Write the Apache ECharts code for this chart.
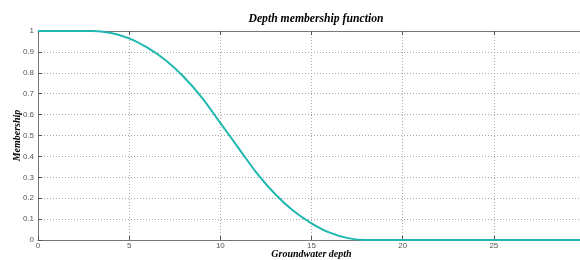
<!DOCTYPE html>
<html>
<head>
<meta charset="utf-8">
<script src="https://cdn.jsdelivr.net/npm/echarts@6/dist/echarts.min.js"></script>
<style>
  html, body { margin: 0; padding: 0; background: #fff; }
  #chart-container { width: 580px; height: 260px; }
</style>
</head>
<body>
<div id="chart-container"></div>
<script>
// groundwater depth and the membership
var depth = [0, 1, 2, 3, 4, 5, 6, 7, 8, 9, 10, 11, 12, 13, 14, 15, 16, 17, 18, 19, 20, 21, 22, 23, 24, 25, 26, 27, 28, 29, 30];
var membership = [1, 1, 1, 1, 0.99, 0.965, 0.92, 0.86, 0.78, 0.68, 0.56, 0.44, 0.32, 0.22, 0.14, 0.08, 0.035, 0.009, 0, 0, 0, 0, 0, 0, 0, 0, 0, 0, 0, 0, 0];
var xTicks = [0, 5, 10, 15, 20, 25, 30];
var yTicks = [0, 0.1, 0.2, 0.3, 0.4, 0.5, 0.6, 0.7, 0.8, 0.9, 1];

var serifBold = {
  fontFamily: 'Liberation Serif',
  fontStyle: 'italic',
  fontWeight: 'bold',
  color: '#000'
};

var dom = document.getElementById('chart-container');
var myChart = echarts.init(dom, null, { renderer: 'canvas' });

var option = {
  backgroundColor: '#fff',
  animation: false,
  title: {
    text: 'Depth membership function',
    left: 311,
    textAlign: 'center',
    top: 8,
    textStyle: Object.assign({ fontSize: 11.7 }, serifBold)
  },
  grid: { left: 38, right: -5, top: 31, bottom: 20, containLabel: false, outerBoundsMode: 'none' },
  xAxis: [
    {
      type: 'value',
      min: 0,
      max: 30,
      interval: 5,
      name: 'Groundwater depth',
      nameLocation: 'middle',
      nameGap: 9,
      nameMoveOverlap: false,
      nameTextStyle: Object.assign({ fontSize: 10 }, serifBold),
      axisLine: { show: true, lineStyle: { color: '#777', width: 1 } },
      axisTick: { show: true, inside: true, length: 4, lineStyle: { color: '#555' } },
      axisLabel: { fontSize: 8, color: '#555', margin: 2, fontFamily: 'Liberation Sans',
        formatter: function (v) { return xTicks.indexOf(v) >= 0 ? String(v) : ''; } },
      splitLine: { show: true, lineStyle: { color: '#aaa', type: [1, 2], width: 1 } }
    },
    {
      type: 'value',
      position: 'top',
      min: 0,
      max: 30,
      interval: 5,
      axisLine: { show: true, lineStyle: { color: '#777', width: 1 } },
      axisTick: { show: true, inside: true, length: 4, lineStyle: { color: '#555' } },
      axisLabel: { show: false },
      splitLine: { show: false }
    }
  ],
  yAxis: {
    type: 'value',
    min: 0,
    max: 1,
    interval: 0.1,
    name: 'Membership',
    nameLocation: 'middle',
    nameGap: 16,
    nameMoveOverlap: false,
    nameTextStyle: Object.assign({ fontSize: 10 }, serifBold),
    axisLine: { show: true, lineStyle: { color: '#777', width: 1 } },
    axisTick: { show: true, inside: true, length: 4, lineStyle: { color: '#555' } },
    axisLabel: { fontSize: 8, color: '#555', margin: 4, fontFamily: 'Liberation Sans',
      formatter: function (v) {
        var r = Math.round(v * 10) / 10;
        return yTicks.indexOf(r) >= 0 ? String(r) : '';
      } },
    splitLine: { show: true, lineStyle: { color: '#aaa', type: [1, 2], width: 1 } }
  },
  series: [
    {
      type: 'line',
      data: depth.map(function (d, i) { return [d, membership[i]]; }),
      smooth: 0.3,
      showSymbol: false,
      lineStyle: { color: '#1fb8b0', width: 2 },
      z: 1
    }
  ]
};

myChart.setOption(option);
window.addEventListener('resize', myChart.resize);
</script>
</body>
</html>
